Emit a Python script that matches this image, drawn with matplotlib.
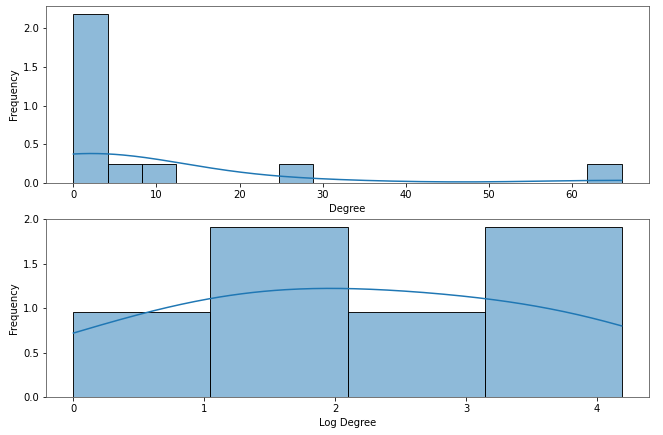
import numpy as np
import matplotlib
matplotlib.use("Agg")
import matplotlib.pyplot as plt

# Data
degree = [0, 0, 0, 0, 0, 1, 1, 3, 3, 5, 10, 27, 66]
log_degree = [0.0, 1.2, 1.6, 2.5, 3.45, 4.1897]
bins = [16, 4]

xlabels = ["Degree", "Log Degree"]
ylabel = "Frequency"

C0 = "#1f77b4"


def kde_curve(values, grid_n=200):
    v = np.asarray(values, float)
    n = v.size
    bw = v.std(ddof=1) * n ** (-1 / 5)
    xs = np.linspace(v.min(), v.max(), grid_n)
    d = np.exp(-0.5 * ((xs[:, None] - v[None, :]) / bw) ** 2).sum(1)
    d /= n * bw * np.sqrt(2 * np.pi)
    return xs, d


def hist_kde(ax, values, nbins, xlabel):
    v = np.asarray(values, float)
    counts, edges = np.histogram(v, bins=nbins)
    widths = np.diff(edges)
    heights = counts / widths  # frequency stat
    ax.bar(edges[:-1], heights, width=widths, align="edge",
           facecolor=(0.122, 0.467, 0.706, 0.5), edgecolor="black",
           linewidth=0.9)
    xs, d = kde_curve(v)
    d = d * (heights * widths).sum()
    ax.plot(xs, d, color=C0, linewidth=1.5)
    ax.set_xlabel(xlabel)
    ax.set_ylabel(ylabel)


fig = plt.figure(figsize=(663 / 72, 435 / 72), dpi=72)
ax1 = fig.add_axes([0.0694, 0.579, 0.9096, 0.408])
ax2 = fig.add_axes([0.0694, 0.0874, 0.9096, 0.4092])

hist_kde(ax1, degree, bins[0], xlabels[0])
hist_kde(ax2, log_degree, bins[1], xlabels[1])

for ax in (ax1, ax2):
    for s in ax.spines.values():
        s.set_color("#555555")

fig.savefig("out.png", dpi=72)
